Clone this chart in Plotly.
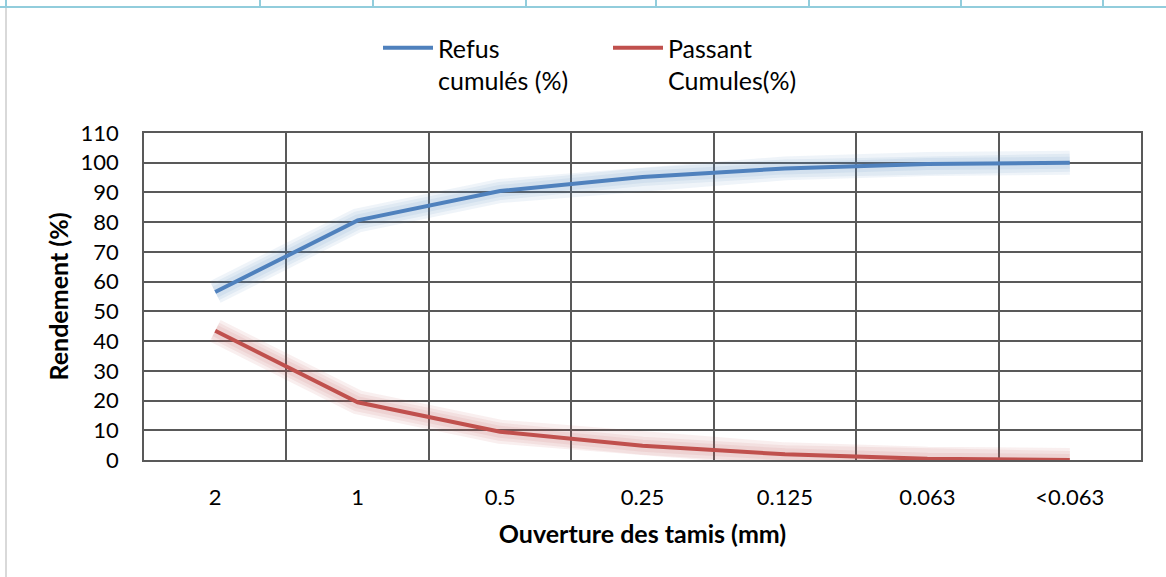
import plotly.graph_objects as go

categories = ["2", "1", "0.5", "0.25", "0.125", "0.063", "<0.063"]
refus = [56.5, 80.6, 90.5, 95.2, 98.1, 99.6, 100.0]
passant = [43.5, 19.4, 9.5, 4.8, 1.9, 0.4, 0.0]
series_names = ["Refus<br>cumulés (%)", "Passant<br>Cumules(%)"]
colors = ["#4f81bd", "#c0504d"]
glow_colors = ["rgba(79,129,189,0.09)", "rgba(192,80,77,0.09)"]

FONT = "Lato"
W, H = 1166, 577
L, R, T, B = 144, 25, 133, 117
PW, PH = W - L - R, H - T - B

fig = go.Figure()
for vals, gc in zip([refus, passant], glow_colors):
    for w in (24, 18, 12):
        fig.add_trace(go.Scatter(x=categories, y=vals, mode="lines",
                                 line=dict(color=gc, width=w),
                                 showlegend=False, hoverinfo="skip"))
for vals, name, c in zip([refus, passant], series_names, colors):
    fig.add_trace(go.Scatter(x=categories, y=vals, mode="lines", name=name,
                             line=dict(color=c, width=4)))

# decorative frame: table strip on top and chart border on left (pixel -> paper)
def px_x(x):
    return (x - L) / PW
def px_y(y):
    return (H - B - y) / PH
shapes = []
strip = "#92cddc"
shapes.append(dict(type="line", xref="paper", yref="paper", x0=px_x(0), x1=px_x(W),
                   y0=px_y(7), y1=px_y(7), line=dict(color=strip, width=2)))
for xv in [6, 260, 373, 526, 656, 809, 961, 1103]:
    shapes.append(dict(type="line", xref="paper", yref="paper", x0=px_x(xv), x1=px_x(xv),
                       y0=px_y(-2), y1=px_y(7), line=dict(color=strip, width=2)))
shapes.append(dict(type="line", xref="paper", yref="paper", x0=px_x(6), x1=px_x(6),
                   y0=px_y(8), y1=px_y(H + 2), line=dict(color="#d9d9d9", width=2)))

fig.update_layout(
    width=W, height=H,
    margin=dict(l=L, r=R, t=T, b=B),
    paper_bgcolor="white", plot_bgcolor="white",
    font=dict(family=FONT, size=22, color="black"),
    shapes=shapes,
    legend=dict(orientation="h", x=378 / W, xanchor="left", xref="container",
                y=1 - 25 / H, yanchor="top", yref="container",
                font=dict(family=FONT, size=25, color="black"),
                itemwidth=50, traceorder="normal", valign="top",
                entrywidth=165),
    xaxis=dict(type="category", tickson="boundaries", showgrid=True,
               gridcolor="#595959", gridwidth=1.5, showline=True, linecolor="#595959",
               linewidth=1.5, mirror=True, ticks="", ticklabelstandoff=17,
               range=[-0.5, 6.5], tickfont=dict(size=22),
               title=dict(text="<b>Ouverture des tamis (mm)</b>", standoff=16,
                          font=dict(family=FONT, size=25))),
    yaxis=dict(range=[0, 110], tickvals=list(range(0, 111, 10)), showgrid=True,
               gridcolor="#595959", gridwidth=1.5, showline=True, linecolor="#595959",
               linewidth=1.5, mirror=True, zeroline=False, ticks="", ticklabelstandoff=19,
               tickfont=dict(size=22),
               title=dict(text="<b>Rendement (%)</b>", standoff=5,
                          font=dict(family=FONT, size=25))),
)

fig.write_html("out.html")
